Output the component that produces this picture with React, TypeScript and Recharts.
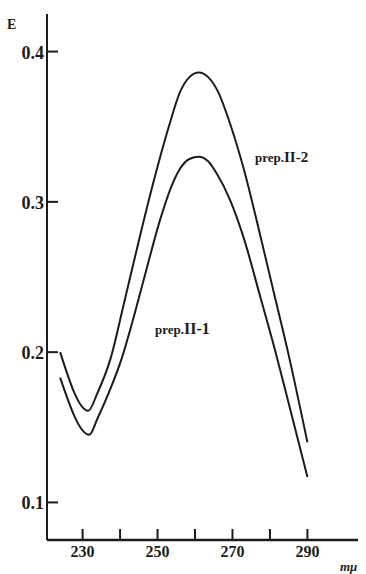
import React from "react";
import { LineChart, Line, XAxis, YAxis } from "recharts";

// prep.II-2 (upper curve)
const waveII2 = [224, 231.5, 234, 237.5, 241, 245, 249, 253, 256, 258.5, 261, 263.5, 266, 269.5, 273, 277, 281, 285, 290];
const absII2 = [0.2, 0.161, 0.173, 0.196, 0.232, 0.274, 0.314, 0.35, 0.373, 0.383, 0.386, 0.383, 0.374, 0.351, 0.322, 0.282, 0.24, 0.198, 0.14];

// prep.II-1 (lower curve)
const waveII1 = [224, 231.8, 234, 237, 240.6, 243.5, 246.4, 250.8, 253.5, 256, 258.5, 261, 263.5, 266, 269.4, 273, 277.4, 281.4, 285, 290];
const absII1 = [0.183, 0.145, 0.156, 0.173, 0.197, 0.222, 0.249, 0.289, 0.309, 0.322, 0.3285, 0.33, 0.327, 0.318, 0.301, 0.276, 0.237, 0.201, 0.166, 0.117];

const xTicks = [230, 240, 250, 260, 270, 280, 290];
const xLabelled = [230, 250, 270, 290];
const yTicks = [0.1, 0.2, 0.3, 0.4];

const ink = "#1c1c1c";
const font = "'Liberation Serif', 'Times New Roman', serif";

const dataII2 = waveII2.map((w, i) => ({ w, e: absII2[i] }));
const dataII1 = waveII1.map((w, i) => ({ w, e: absII1[i] }));

function XTick({ x, y, payload }: any) {
  const v = payload.value;
  return (
    <g>
      <line x1={x} y1={y} x2={x} y2={y - 11} stroke={ink} strokeWidth={2} />
      {xLabelled.includes(v) && (
        <text x={x} y={y + 17} textAnchor="middle" fontFamily={font} fontWeight="bold" fontSize={16} fill={ink}>
          {v}
        </text>
      )}
    </g>
  );
}

function YTick({ x, y, payload }: any) {
  return (
    <g>
      <line x1={x} y1={y} x2={x + 11} y2={y} stroke={ink} strokeWidth={2} />
      <text x={x - 3} y={y + 7} textAnchor="end" fontFamily={font} fontWeight="bold" fontSize={18} fill={ink}>
        {payload.value.toFixed(1)}
      </text>
    </g>
  );
}

const textStyle: React.CSSProperties = {
  position: "absolute",
  fontFamily: font,
  fontWeight: "bold",
  color: ink,
  whiteSpace: "nowrap",
  lineHeight: 1,
};

export default function App() {
  return (
    <div style={{ position: "absolute", left: 0, top: 0, width: 366, height: 574, background: "#fff" }}>
      <LineChart width={366} height={574} margin={{ top: 14, right: 8, bottom: 0, left: 0 }}>
        <XAxis
          type="number"
          dataKey="w"
          domain={[220.5, 303.5]}
          ticks={xTicks}
          allowDataOverflow
          height={34}
          tickSize={0}
          tickMargin={0}
          tickLine={false}
          axisLine={{ stroke: ink, strokeWidth: 2.5 }}
          tick={<XTick />}
        />
        <YAxis
          type="number"
          domain={[0.075, 0.425]}
          ticks={yTicks}
          allowDataOverflow
          width={47}
          tickSize={0}
          tickMargin={0}
          tickLine={false}
          axisLine={{ stroke: ink, strokeWidth: 2 }}
          tick={<YTick />}
        />
        <Line data={dataII2} dataKey="e" type="monotone" stroke={ink} strokeWidth={2} dot={false} isAnimationActive={false} />
        <Line data={dataII1} dataKey="e" type="monotone" stroke={ink} strokeWidth={2} dot={false} isAnimationActive={false} />
      </LineChart>
      <div style={{ ...textStyle, left: 7, top: 18, fontSize: 14 }}>E</div>
      <div style={{ ...textStyle, left: 340, top: 560, fontSize: 13, fontStyle: "italic" }}>mμ</div>
      <div style={{ ...textStyle, left: 255, top: 150, fontSize: 13 }}>
        prep.<span style={{ fontSize: 15 }}>II-2</span>
      </div>
      <div style={{ ...textStyle, left: 155, top: 321, fontSize: 13 }}>
        prep.<span style={{ fontSize: 16 }}>II-1</span>
      </div>
    </div>
  );
}
